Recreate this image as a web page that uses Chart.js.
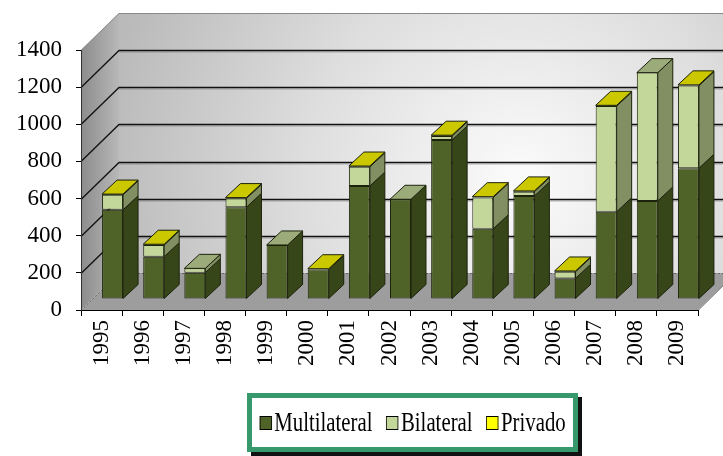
<!DOCTYPE html>
<html>
<head>
<meta charset="utf-8">
<script src="https://cdn.jsdelivr.net/npm/chart.js@4/dist/chart.umd.min.js"></script>
<style>
  body { margin: 0; background: #fff; }
  #wrap { position: relative; width: 723px; height: 456px; }
  #legend {
    position: absolute; left: 247px; top: 393px; width: 331px; height: 59px;
    box-sizing: border-box; border: 5px solid #37996b; background: #fff;
    box-shadow: 4px 4px 0 #111;
    display: flex; align-items: center; justify-content: center;
  }
  #legend .inner {
    display: flex; align-items: center; white-space: nowrap;
    font-family: "Liberation Serif", "Times New Roman", serif; font-size: 27px; color: #000;
    transform: scaleX(0.77);
  }
  #legend .item { display: flex; align-items: center; margin: 0 9px; }
  #legend .box { width: 16px; height: 14px; border: 1px solid #000; margin-right: 3px; box-sizing: border-box; }
</style>
</head>
<body>
<div id="wrap">
  <canvas id="chart" width="723" height="456"></canvas>
  <div id="legend"><div class="inner"></div></div>
</div>
<script>
const years = ['1995', '1996', '1997', '1998', '1999', '2000', '2001', '2002',
  '2003', '2004', '2005', '2006', '2007', '2008', '2009'];
const seriesNames = ['Multilateral', 'Bilateral', 'Privado'];
const multilateral = [480, 228, 142, 494, 291, 159, 608, 537, 856, 378, 555, 111, 470, 528, 704];
const bilateral = [81, 63, 23, 48, 0, 0, 104, 0, 22, 169, 23, 36, 569, 691, 445];
const privado = [4, 4, null, 4, null, 4, 4, null, 4, 4, 4, 4, 4, null, 4];

// front / side / top face colours per series
const frontColors = ['#4f6228', '#c4d79b', '#ffff00'];
const sideColors = ['#374619', '#818f63', '#b5b300'];
const topColors = ['#6b7d43', '#9bab7a', '#cbc800'];

const FONT = { family: '"Liberation Serif", "Times New Roman", serif', size: 23 };

// depth offsets: walls, bar front plane, bar depth
const WALL = { dx: 38, dy: -37 };
const SHIFT = { dx: 11, dy: -11 };
const DEPTH = { dx: 15, dy: -14 };

const threeD = {
  id: 'threeD',
  beforeDraw(chart) {
    const { ctx, chartArea: a, scales } = chart;
    const y = scales.y;
    const L = a.left, R = a.right, T = a.top, B = a.bottom;
    ctx.save();
    // back wall
    const g = ctx.createRadialGradient(520, 180, 10, 520, 180, 420);
    g.addColorStop(0, '#fafafa');
    g.addColorStop(0.5, '#dedede');
    g.addColorStop(1, '#bababa');
    ctx.fillStyle = g;
    ctx.fillRect(L + WALL.dx, T + WALL.dy, R - L + 2, B - T);
    // left wall
    const lg = ctx.createLinearGradient(L, 0, L + WALL.dx, 0);
    lg.addColorStop(0, '#8c8c8c');
    lg.addColorStop(1, '#b8b8b8');
    ctx.fillStyle = lg;
    ctx.beginPath();
    ctx.moveTo(L, T); ctx.lineTo(L + WALL.dx, T + WALL.dy);
    ctx.lineTo(L + WALL.dx, B + WALL.dy); ctx.lineTo(L, B);
    ctx.closePath(); ctx.fill();
    // floor
    ctx.fillStyle = '#9d9d9d';
    ctx.beginPath();
    ctx.moveTo(L, B); ctx.lineTo(L + WALL.dx, B + WALL.dy);
    ctx.lineTo(R + WALL.dx, B + WALL.dy); ctx.lineTo(R, B);
    ctx.closePath(); ctx.fill();
    ctx.strokeStyle = '#777'; ctx.lineWidth = 1;
    ctx.beginPath();
    ctx.moveTo(L, B + 0.5); ctx.lineTo(R, B + 0.5); ctx.lineTo(R + WALL.dx, B + WALL.dy);
    ctx.stroke();
    // gridlines on walls
    y.ticks.forEach(t => {
      const yf = Math.round(y.getPixelForValue(t.value)) + 0.5;
      const yb = yf + WALL.dy;
      if (t.value === 0) {
        ctx.strokeStyle = '#666'; ctx.lineWidth = 1; ctx.setLineDash([2, 2]);
      } else if (t.value === y.max) {
        ctx.strokeStyle = '#8a8a8a'; ctx.lineWidth = 1; ctx.setLineDash([]);
      } else {
        ctx.strokeStyle = '#111'; ctx.lineWidth = 1.3; ctx.setLineDash([]);
      }
      ctx.beginPath();
      ctx.moveTo(L, yf); ctx.lineTo(L + WALL.dx, yb); ctx.lineTo(R + WALL.dx + 2, yb);
      ctx.stroke();
      if (t.value !== 0 && t.value !== y.max) {
        ctx.strokeStyle = 'rgba(90,90,90,0.45)'; ctx.lineWidth = 1;
        ctx.beginPath();
        ctx.moveTo(L + WALL.dx, yb + 1.5); ctx.lineTo(R + WALL.dx + 2, yb + 1.5);
        ctx.stroke();
      }
    });
    ctx.setLineDash([]);
    ctx.restore();
  },
  beforeDatasetsDraw(chart) {
    chart.ctx.save();
    chart.ctx.translate(SHIFT.dx, SHIFT.dy);
  },
  afterDatasetsDraw(chart) {
    const ctx = chart.ctx;
    ctx.restore();
    ctx.save();
    ctx.strokeStyle = '#1c220c';
    ctx.lineWidth = 1;
    ctx.lineJoin = 'round';
    const n = chart.data.labels.length;
    for (let i = 0; i < n; i++) {
      let topIdx = -1, topRect = null;
      chart.data.datasets.forEach((ds, d) => {
        const v = ds.data[i];
        if (v === null || v === undefined) return;
        const el = chart.getDatasetMeta(d).data[i];
        const p = el.getProps(['x', 'y', 'base', 'width'], true);
        const xL = p.x - p.width / 2 + SHIFT.dx;
        const xR = p.x + p.width / 2 + SHIFT.dx;
        const yT = p.y + SHIFT.dy;
        const yB = p.base + SHIFT.dy;
        if (yB - yT > 0.2) {
          ctx.fillStyle = sideColors[d];
          ctx.beginPath();
          ctx.moveTo(xR, yT); ctx.lineTo(xR + DEPTH.dx, yT + DEPTH.dy);
          ctx.lineTo(xR + DEPTH.dx, yB + DEPTH.dy); ctx.lineTo(xR, yB);
          ctx.closePath(); ctx.fill(); ctx.stroke();
        }
        topIdx = d; topRect = { xL, xR, yT };
      });
      if (topRect) {
        const { xL, xR, yT } = topRect;
        ctx.fillStyle = topColors[topIdx];
        ctx.beginPath();
        ctx.moveTo(xL, yT); ctx.lineTo(xL + DEPTH.dx, yT + DEPTH.dy);
        ctx.lineTo(xR + DEPTH.dx, yT + DEPTH.dy); ctx.lineTo(xR, yT);
        ctx.closePath(); ctx.fill(); ctx.stroke();
      }
    }
    ctx.restore();
  }
};

const seriesData = [multilateral, bilateral, privado];

new Chart(document.getElementById('chart'), {
  type: 'bar',
  data: {
    labels: years,
    datasets: seriesNames.map((name, d) => ({
      label: name,
      data: seriesData[d],
      backgroundColor: frontColors[d],
      borderColor: '#1c220c',
      borderWidth: 1,
      borderSkipped: false,
      categoryPercentage: 1,
      barPercentage: 0.51,
      clip: false
    }))
  },
  options: {
    responsive: false,
    animation: false,
    layout: { padding: { top: 50, right: 25, left: 0, bottom: 0 } },
    plugins: { legend: { display: false }, tooltip: { enabled: false } },
    scales: {
      x: {
        stacked: true,
        grid: { offset: true, drawOnChartArea: false, color: '#000', tickLength: 6 },
        border: { color: '#000', width: 1 },
        ticks: { font: FONT, color: '#000', minRotation: 90, maxRotation: 90, padding: 4, autoSkip: false },
        afterFit(s) { s.height = 146; }
      },
      y: {
        stacked: true,
        min: 0, max: 1400,
        grid: { drawOnChartArea: false, color: '#000', tickLength: 5 },
        border: { color: '#333', width: 1 },
        ticks: { stepSize: 200, font: FONT, color: '#000', padding: 14, callback: v => String(v) },
        afterFit(s) { s.width = 81; }
      }
    }
  },
  plugins: [threeD]
});

// legend
const inner = document.querySelector('#legend .inner');
seriesNames.forEach((name, d) => {
  const item = document.createElement('div');
  item.className = 'item';
  const box = document.createElement('span');
  box.className = 'box';
  box.style.background = frontColors[d];
  const txt = document.createElement('span');
  txt.textContent = name;
  item.appendChild(box); item.appendChild(txt);
  inner.appendChild(item);
});
</script>
</body>
</html>
